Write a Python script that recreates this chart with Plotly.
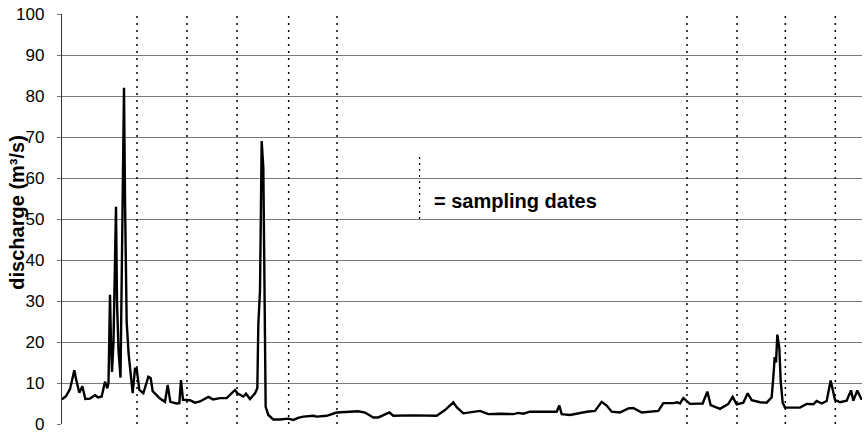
import plotly.graph_objects as go

# day index (x) and discharge (m3/s)
days = [0, 2.4, 4.8, 7.4, 8.4, 10.4, 12.2, 14.0, 16.8, 19.8, 21.6, 23.8, 25.8, 27.2, 27.9,
        28.8, 29.4, 30.0, 30.9, 31.8, 32.4, 33.0, 33.9, 35.1, 36.0, 37.2, 37.8, 38.8, 40.0,
        42.4, 43.8, 44.8, 46.4, 48.8, 51.8, 53.2, 54.4, 58.8, 61.8, 63.4, 65.0, 68.8, 70.4,
        71.4, 72.6, 76.8, 79.8, 82.8, 87.8, 90.6, 94.8, 98.8, 103.8, 105.2, 108.8, 110.4,
        112.8, 115.8, 117.2, 117.8, 118.8, 119.8, 120.8, 121.4, 122.2, 123.8, 126.8, 130.8,
        135.8, 138.8, 141.6, 144.8, 150.8, 152.8, 158.8, 164.8, 172.8, 177.8, 181.8, 186.8,
        189.8, 192.8, 196.4, 198.8, 210.0, 224.8, 229.8, 234.8, 236.8, 240.8, 246.8, 250.8,
        255.8, 263.0, 270.8, 273.8, 276.8, 280.8, 290.0, 296.8, 298.4, 299.8, 304.8, 314.8,
        319.8, 323.8, 326.8, 329.8, 334.8, 339.8, 342.8, 347.8, 357.8, 360.8, 366.8, 369.2,
        370.8, 372.8, 376.8, 380.8, 384.4, 387.2, 389.2, 394.8, 399.8, 402.4, 404.8, 408.8,
        411.4, 413.8, 418.8, 422.8, 425.8, 426.8, 427.6, 428.4, 429.2, 430.4, 431.2, 432.4,
        433.8, 442.8, 446.8, 450.8, 452.8, 455.8, 458.8, 461.2, 463.8, 466.8, 470.8, 473.4,
        474.8, 477.2, 479.8]
discharge = [6.0, 6.8, 8.5, 13.1, 11.0, 7.6, 9.2, 6.1, 6.2, 7.0, 6.5, 6.7, 10.3, 8.7, 10.0,
             31.5, 20.0, 12.7, 20.0, 45.0, 53.0, 30.0, 18.0, 11.3, 45.0, 82.0, 55.0, 24.8, 17.0,
             7.5, 13.5, 13.5, 8.3, 7.5, 11.5, 11.2, 8.0, 6.2, 5.4, 9.5, 5.4, 5.0, 5.1,
             10.7, 5.9, 5.8, 5.2, 5.5, 6.6, 6.0, 6.3, 6.3, 8.3, 7.5, 6.7, 7.4,
             6.1, 7.5, 8.7, 24.4, 32.5, 69.0, 62.5, 30.0, 4.2, 2.2, 1.1, 1.1,
             1.3, 1.0, 1.5, 1.8, 2.0, 1.8, 2.0, 2.8, 2.9, 3.1, 2.8, 1.6,
             1.6, 2.2, 2.8, 2.0, 2.1, 2.0, 3.4, 5.3, 4.1, 2.6, 3.0, 3.2,
             2.4, 2.5, 2.4, 2.7, 2.5, 3.0, 3.0, 3.0, 4.5, 2.4, 2.2, 3.0,
             3.2, 5.4, 4.5, 3.0, 2.8, 3.8, 3.9, 2.8, 3.2, 5.1, 5.1, 5.3,
             5.0, 6.3, 4.9, 5.0, 5.0, 7.9, 4.6, 3.7, 4.9, 6.6, 4.8, 5.2,
             7.5, 5.8, 5.3, 5.2, 6.5, 11.4, 16.3, 15.0, 21.8, 18.5, 10.5, 5.2,
             4.0, 4.0, 4.9, 4.8, 5.6, 5.0, 5.6, 10.6, 5.9, 5.3, 5.7, 8.2,
             5.7, 8.2, 5.9]

sampling_dates = [45, 75, 105, 136, 165, 375, 405, 434, 464]
y_ticks = [0, 10, 20, 30, 40, 50, 60, 70, 80, 90, 100]

fig = go.Figure()
fig.add_trace(go.Scatter(x=days, y=discharge, mode="lines",
                         line=dict(color="black", width=2.4), showlegend=False,
                         hoverinfo="skip"))

for d in sampling_dates:
    fig.add_shape(type="line", x0=d, x1=d, xref="x", yref="paper", y0=0, y1=1,
                  line=dict(color="black", width=1.5, dash="2px,5px"), layer="above")

# legend marker
fig.add_shape(type="line", xref="paper", yref="y", x0=0.447, x1=0.447, y0=50, y1=65.5,
              line=dict(color="black", width=1.2, dash="2px,4px"))
fig.add_annotation(text="<b>= sampling dates</b>", xref="paper", yref="y",
                   x=0.4625, y=54.3, xanchor="left", yanchor="middle", showarrow=False,
                   font=dict(family="Liberation Sans", size=20, color="black"))

fig.add_annotation(text="<b>discharge (m³/s)</b>", xref="paper", yref="paper",
                   x=-0.0565, y=0.515, xanchor="center", yanchor="middle",
                   textangle=-90, showarrow=False,
                   font=dict(family="Liberation Sans", size=20, color="black"))

fig.update_layout(
    width=867, height=439,
    margin=dict(l=62, r=5, t=12, b=15),
    paper_bgcolor="white", plot_bgcolor="white",
    font=dict(family="Liberation Sans", color="black"),
    hovermode=False,
    xaxis=dict(range=[0, 480], showgrid=False, showticklabels=False, ticks="",
               zeroline=False, showline=False, fixedrange=True),
    yaxis=dict(range=[0, 100], tickvals=y_ticks, showgrid=True, gridcolor="#7a7a7a",
               gridwidth=1, zeroline=False, showline=True, linecolor="#333333",
               linewidth=1.2, ticks="outside", ticklen=4, tickcolor="#7a7a7a",
               ticklabelstandoff=9, ticklabeloverflow="allow", fixedrange=True,
               tickfont=dict(family="Liberation Sans", size=17, color="black")),
)

fig.write_html("out.html", config={"displayModeBar": False, "staticPlot": True})

# remove the default page margin so the figure sits at the window origin
with open("out.html", "r", encoding="utf-8") as f:
    html = f.read()
html = html.replace("<head>", "<head><style>html,body{margin:0;padding:0;overflow:hidden;}</style>", 1)
with open("out.html", "w", encoding="utf-8") as f:
    f.write(html)
